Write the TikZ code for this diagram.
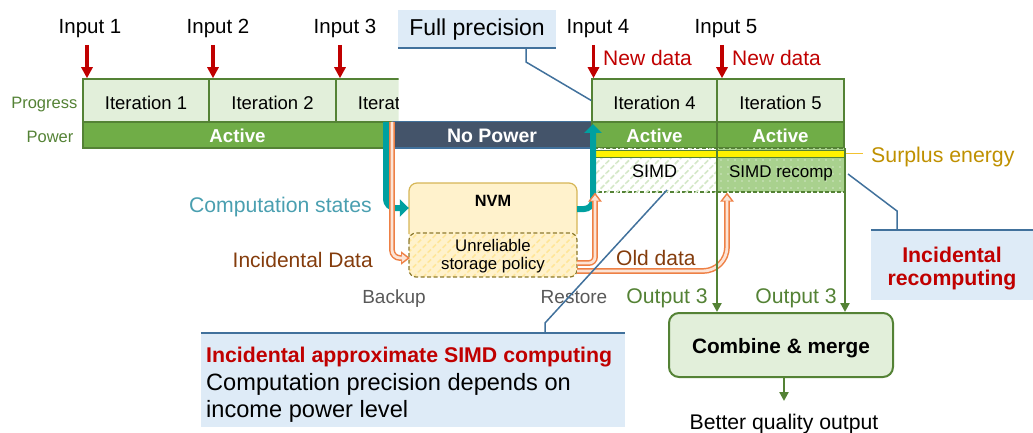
\documentclass[tikz,border=0pt]{standalone}
\usepackage{fontspec}
\setmainfont{Liberation Sans}
\usetikzlibrary{arrows.meta,patterns.meta}
\definecolor{itfill}{HTML}{E2EFDA}
\definecolor{itdraw}{HTML}{548235}
\definecolor{actfill}{HTML}{70AD47}
\definecolor{nopow}{HTML}{44546A}
\definecolor{redc}{HTML}{C00000}
\definecolor{tealc}{HTML}{00A0A0}
\definecolor{orgout}{HTML}{EE8045}
\definecolor{peach}{HTML}{FCE4D6}
\definecolor{nvmfill}{HTML}{FFF2CC}
\definecolor{nvmdraw}{HTML}{D6B656}
\definecolor{nvmdash}{HTML}{8C7A2E}
\definecolor{hatchy}{HTML}{FFE699}
\definecolor{bluefill}{HTML}{DEEBF7}
\definecolor{blueline}{HTML}{41719C}
\definecolor{surplus}{HTML}{BF9000}
\definecolor{surline}{HTML}{F2C230}
\definecolor{compst}{HTML}{4A9FB0}
\definecolor{brownc}{HTML}{843C0C}
\definecolor{grayc}{HTML}{595959}
\definecolor{simdrf}{HTML}{A9D18E}
\definecolor{hatchg}{HTML}{D5E8C8}
\begin{document}
\begin{tikzpicture}[x=1pt,y=-1pt,
  fs/.style={font=\fontsize{#1pt}{#1pt}\selectfont},
  fsb/.style={font=\fontsize{#1pt}{#1pt}\selectfont\bfseries},
  itbox/.style={draw=itdraw, fill=itfill, line width=1.5pt, minimum height=43pt, inner sep=0pt, fs=18.5, text height=19pt, text depth=0pt},
  actbox/.style={draw=itdraw, fill=actfill, line width=1.2pt, minimum height=26pt, inner sep=0pt, text=white, fsb=18.7, text height=15.4pt, text depth=0pt},
  nopbox/.style={draw=blueline, fill=nopow, line width=1pt, minimum height=26pt, inner sep=0pt, text=white, fsb=19.5, text height=15.4pt, text depth=0pt},
  simdbox/.style={draw=itdraw, dashed, dash pattern=on 4pt off 2pt, line width=1.5pt, minimum height=44pt, inner sep=0pt, text height=15.4pt, text depth=0pt},
  redarrow/.style={draw=redc, line width=3.5pt, -{Triangle[width=11pt,length=11pt]}},
  tealarrow/.style={draw=tealc, line width=6pt, rounded corners=9pt, -{Triangle[width=17pt,length=9pt]}},
  orgA/.style={draw=orgout, line width=5.8pt, -{Triangle[width=13pt,length=9pt]}},
  orgB/.style={draw=peach, line width=2.8pt, shorten >=2.6pt, -{Triangle[width=8pt,length=5.5pt]}},
  greenarrow/.style={draw=itdraw, line width=2.5pt, -{Triangle[width=9pt,length=9pt]}},
  callout/.style={draw=blueline, line width=1.5pt},
  bluebox/.style={fill=bluefill, inner sep=0pt},
  lbl/.style={anchor=base, inner sep=0pt}
]
\useasboundingbox (0,0) rectangle (1033,433);

% ---- progress row ----
\node[itbox, minimum width=126pt] (it1) at (146,100.5) {Iteration 1};
\node[itbox, minimum width=127pt] (it2) at (272.5,100.5) {Iteration 2};
\begin{scope}
\clip (330,70) rectangle (398.5,130);
\node[itbox, minimum width=126pt] (it3) at (399,100.5) {Iteration 3};
\end{scope}
\node[itbox, minimum width=125pt] (it4) at (654.5,100.5) {Iteration 4};
\node[itbox, minimum width=127pt] (it5) at (780.5,100.5) {Iteration 5};

% ---- power row ----
\node[actbox, minimum width=309pt] (pw1) at (237.5,135) {Active};
\node[nopbox, minimum width=200pt] (pw2) at (492,135) {No Power};
\node[actbox, minimum width=125pt] (pw4) at (654.5,135) {Active};
\node[actbox, minimum width=127pt] (pw5) at (780.5,135) {Active};

\node[lbl, anchor=base east, text=itdraw, fs=16.5] (lprog) at (77.5,109) {Progress};
\node[lbl, text=itdraw, fs=16.5] (lpow) at (50,142.7) {Power};

% ---- SIMD boxes ----
\node[simdbox, minimum width=125pt, fill=white, postaction={pattern={Lines[angle=45,distance=7pt,line width=1.6pt]}, pattern color=hatchg}, fs=18] (simd) at (654.5,170) {SIMD};
\node[simdbox, minimum width=128pt, fill=simdrf, postaction={pattern={Dots[distance=7pt,radius=0.7pt]}, pattern color=white}, fs=17] (simdr) at (781,170) {SIMD recomp};
\draw[itdraw, line width=0.8pt, fill=yellow] (593,150) rectangle (845,157);
\coordinate (yb) at (846,153.5);
\coordinate (ybe) at (863,153.5);
\draw[surline, line width=1.3pt] (yb) -- (ybe);
\node[lbl, anchor=base west, text=surplus, fs=21.3] (lsur) at (871,162.3) {Surplus energy};

% ---- inputs ----
\node[lbl, fs=20.5] (in1) at (90,34) {Input 1};
\node[lbl, fs=20.5] (in2) at (218,34) {Input 2};
\node[lbl, fs=20.5] (in3) at (345,34) {Input 3};
\node[lbl, fs=20.5] (in4) at (598,34) {Input 4};
\node[lbl, fs=20.5] (in5) at (726,34) {Input 5};
\coordinate (r1) at (87,45);
\coordinate (r2) at (213,45);
\coordinate (r3) at (340,45);
\coordinate (r4) at (593.5,45);
\coordinate (r5) at (722,45);
\draw[redarrow] (r1) -- (r1 |- it1.north);
\draw[redarrow] (r2) -- (r2 |- it2.north);
\draw[redarrow] (r3) -- (r3 |- it1.north);
\draw[redarrow] (r4) -- (r4 |- it4.north);
\draw[redarrow] (r5) -- (r5 |- it5.north);
\node[lbl, anchor=base west, text=redc, fs=21] (nd4) at (603,65.5) {New data};
\node[lbl, anchor=base west, text=redc, fs=21] (nd5) at (732,65.5) {New data};

% ---- full precision ----
\node[bluebox, minimum width=158pt, minimum height=38pt, fs=23, text height=14pt, text depth=0pt] (fp) at (477,29) {Full precision};
\draw[blueline, line width=2pt] (fp.south west) -- (fp.south east);
\coordinate (cf1) at (526,48);
\coordinate (cf2) at (526,62);
\draw[callout] (cf1) -- (cf2) -- (it4.west);

% ---- NVM ----
\node[fill=nvmfill, rounded corners=8pt, minimum width=168pt, minimum height=94pt, inner sep=0pt] (nvm) at (493,230) {};
\draw[nvmdraw, line width=1.2pt, rounded corners=8pt] (409,234) -- (409,183) -- (577,183) -- (577,234);
\draw[nvmdash, line width=1.2pt, dashed, dash pattern=on 4pt off 2.5pt, rounded corners=7pt, pattern={Lines[angle=45,distance=7pt,line width=1.6pt]}, pattern color=hatchy] (409,233) rectangle (577,277);
\node[lbl, fsb=16.3] (nvmt) at (493,206) {NVM};
\node[lbl, fs=16.8] (nvmu1) at (493,251) {Unreliable};
\node[lbl, fs=16.8] (nvmu2) at (493,269.5) {storage policy};

% ---- green verticals to combine ----
\node[draw=itdraw, fill=itfill, rounded corners=10pt, line width=2pt, minimum width=224pt, minimum height=64pt, inner sep=0pt, fsb=20.8, text height=16.6pt, text depth=0pt] (comb) at (781,345) {Combine \& merge};
\coordinate (g1) at (717,148);
\coordinate (g2) at (845,148);
\draw[greenarrow] (g1) -- (g1 |- comb.north);
\draw[greenarrow] (g2) -- (g2 |- comb.north);
\coordinate (bq) at (784,401);
\draw[greenarrow] (bq |- comb.south) -- (bq);
\node[lbl, fs=21.2] (lbq) at (784,429.5) {Better quality output};
\node[lbl, text=itdraw, fs=21.2] (o3a) at (667,303.3) {Output 3};
\node[lbl, text=itdraw, fs=21.2] (o3b) at (796,303.3) {Output 3};

% ---- teal arrows ----
\coordinate (tb0) at (386,122);
\coordinate (tb1) at (386,208);
\coordinate (tb2) at (nvm.west |- tb1);
\draw[tealarrow] (tb0) -- (tb1) -- (tb2);
\coordinate (tr0) at (577,209);
\coordinate (tr1) at (593,209);
\coordinate (tr2) at (593,124);
\draw[tealarrow] (tr0) -- (tr1) -- (tr2);

% ---- orange arrows ----
\coordinate (ob0) at (392,122);
\coordinate (ob1) at (392,258);
\coordinate (ob2) at (410,258);
\draw[orgA, rounded corners=8pt] (ob0) -- (ob1) -- (ob2);
\draw[orgB, rounded corners=8pt] (ob0) -- (ob1) -- (ob2);
\coordinate (orr0) at (577,263);
\coordinate (orr1) at (595,263);
\coordinate (orr2) at (595 ,192.5);
\draw[orgA, rounded corners=6pt] (orr0) -- (orr1) -- (orr2);
\draw[orgB, rounded corners=6pt] (orr0) -- (orr1) -- (orr2);
\coordinate (od0) at (577,271);
\coordinate (od1) at (727,271);
\coordinate (od2) at (727,192.5);
\draw[orgA, rounded corners=24pt] (od0) -- (od1) -- (od2);
\draw[orgB, rounded corners=24pt] (od0) -- (od1) -- (od2);
\draw[itdraw, line width=2.5pt] (717,192) -- (717,300);

% ---- side labels ----
\node[lbl, anchor=base east, text=compst, fs=21.2] (lcs) at (372,212.5) {Computation states};
\node[lbl, anchor=base east, text=brownc, fs=21] (lid) at (373,267.5) {Incidental Data};
\node[lbl, text=grayc, fs=19] (lbk) at (394,303.3) {Backup};
\node[lbl, text=grayc, fs=19] (lrs) at (574,303.3) {Restore};
\node[lbl, anchor=base west, text=brownc, fs=21] (lod) at (616,265) {Old data};

% ---- incidental approximate SIMD computing ----
\node[bluebox, minimum width=424pt, minimum height=94pt] (iab) at (413,380) {};
\draw[blueline, line width=2pt] (iab.north west) -- (iab.north east);
\node[lbl, anchor=base west, text=redc, fsb=21.3] (ia1) at (206,362) {Incidental approximate SIMD computing};
\node[lbl, anchor=base west, fs=23.6] (ia2) at (206,390) {Computation precision depends on};
\node[lbl, anchor=base west, fs=23.6] (ia3) at (206,417.5) {income power level};
\coordinate (ca1) at (545,333);
\coordinate (ca2) at (545,323);
\coordinate (ca3) at (667,190);
\draw[callout] (ca1) -- (ca2) -- (ca3);

% ---- incidental recomputing ----
\node[bluebox, minimum width=162pt, minimum height=70pt] (irb) at (952,265) {};
\draw[blueline, line width=2pt] (irb.north west) -- (irb.north east);
\node[lbl, text=redc, fsb=21.3] (ir1) at (952,262) {Incidental};
\node[lbl, text=redc, fsb=21.3] (ir2) at (952,285.5) {recomputing};
\coordinate (cr1) at (897,230);
\coordinate (cr2) at (897,211);
\coordinate (cr3) at (848,174);
\draw[callout] (cr1) -- (cr2) -- (cr3);
\end{tikzpicture}
\end{document}
